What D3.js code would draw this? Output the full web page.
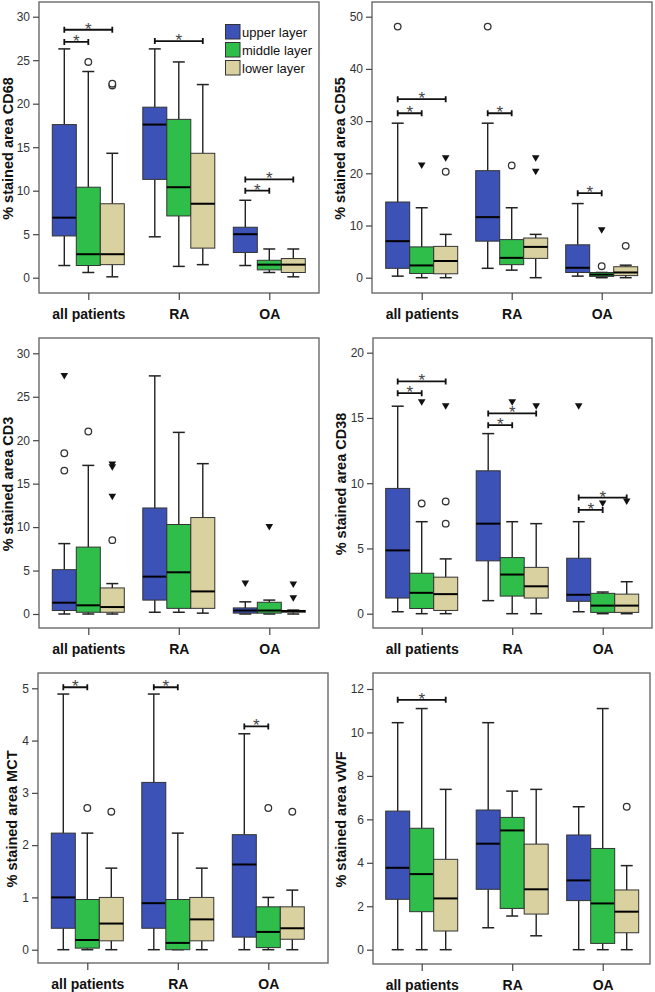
<!DOCTYPE html>
<html><head><meta charset="utf-8">
<script src="https://cdn.jsdelivr.net/npm/d3@7"></script>
<style>
html,body{margin:0;padding:0;background:#fff;}
svg{display:block;}
text{font-family:"Liberation Sans",Arial,sans-serif;}
</style></head>
<body>
<svg id="chart" width="655" height="992"></svg>
<script>
// ---------- data ----------
const groups = ["all patients", "RA", "OA"];
const layers = ["upper layer", "middle layer", "lower layer"];
const markers = ["CD68", "CD55", "CD3", "CD38", "MCT", "vWF"];

const cd68Ticks = [0, 5, 10, 15, 20, 25, 30];
const cd55Ticks = [0, 10, 20, 30, 40, 50];
const cd3Ticks  = [0, 5, 10, 15, 20, 25, 30];
const cd38Ticks = [0, 5, 10, 15, 20];
const mctTicks  = [0, 1, 2, 3, 4, 5];
const vwfTicks  = [0, 2, 4, 6, 8, 10, 12];

// box stats [min whisker, Q1, median, Q3, max whisker], order: group x layer
const cd68Boxes = [
  [1.4, 4.8, 6.9, 17.6, 26.3], [0.6, 1.4, 2.7, 10.4, 23.7], [0.1, 1.5, 2.7, 8.5, 14.3],
  [4.7, 11.3, 17.6, 19.6, 26.3], [1.3, 7.1, 10.4, 18.2, 24.8], [1.5, 3.4, 8.5, 14.3, 22.2],
  [1.4, 2.9, 5.0, 5.8, 8.9], [0.6, 0.9, 1.5, 2.0, 3.3], [0.1, 0.6, 1.5, 2.2, 3.3]
];
const cd55Boxes = [
  [0.3, 1.8, 7.0, 14.5, 29.6], [0, 0.8, 2.35, 5.9, 13.4], [0, 0.75, 3.2, 6.0, 8.3],
  [1.8, 7.0, 11.6, 20.5, 29.6], [1.45, 2.5, 3.8, 7.3, 13.4], [0, 3.7, 5.9, 7.6, 8.3],
  [0.3, 1.0, 1.9, 6.3, 14.2], [0, 0.25, 0.6, 1.0, 1.0], [0, 0.4, 1.0, 2.1, 2.4]
];
const cd3Boxes = [
  [0, 0.4, 1.3, 5.1, 8.1], [0, 0.2, 1.0, 7.7, 17.1], [0, 0.2, 0.8, 3.0, 3.5],
  [0.2, 1.6, 4.3, 12.2, 27.4], [0.2, 0.65, 4.8, 10.3, 20.9], [0.1, 0.65, 2.6, 11.1, 17.3],
  [0, 0.1, 0.4, 0.7, 1.4], [0, 0.1, 0.4, 1.35, 1.6], [0, 0.2, 0.35, 0.4, 0.45]
];
const cd38Boxes = [
  [0.15, 1.2, 4.85, 9.6, 15.9], [0, 0.4, 1.6, 3.1, 7.05], [0, 0.25, 1.5, 2.8, 4.2],
  [1.0, 4.05, 6.9, 10.95, 13.8], [0, 1.35, 3.0, 4.3, 7.05], [0, 1.2, 2.1, 3.55, 6.9],
  [0.15, 0.95, 1.45, 4.25, 7.05], [0, 0.1, 0.62, 1.56, 1.66], [0, 0.1, 0.62, 1.5, 2.45]
];
const mctBoxes = [
  [0, 0.41, 1.0, 2.23, 4.89], [0, 0.03, 0.185, 0.96, 2.23], [0, 0.17, 0.5, 1.0, 1.56],
  [0, 0.41, 0.89, 3.2, 4.89], [0, 0, 0.13, 0.96, 2.23], [0, 0.17, 0.58, 1.0, 1.56],
  [0, 0.24, 1.63, 2.2, 4.13], [0, 0.04, 0.34, 0.82, 1.0], [0, 0.2, 0.41, 0.82, 1.14]
];
const vwfBoxes = [
  [0, 2.32, 3.77, 6.38, 10.45], [0, 1.75, 3.48, 5.59, 11.1], [0, 0.86, 2.36, 4.16, 7.38],
  [1.01, 2.78, 4.88, 6.43, 10.45], [1.55, 1.9, 5.49, 6.09, 7.3], [0.64, 1.64, 2.78, 4.86, 7.38],
  [0, 2.26, 3.19, 5.28, 6.58], [0, 0.29, 2.13, 4.66, 11.1], [0, 0.78, 1.75, 2.75, 3.87]
];

// outliers [group, layer, value, kind]  c = circle (outlier), t = triangle (extreme)
const cd68Outliers = [[0, 1, 24.8, "c"], [0, 2, 22.1, "c"], [0, 2, 22.3, "c"]];
const cd55Outliers = [[0, 0, 48.1, "c"], [0, 1, 21.5, "t"], [0, 2, 22.9, "t"], [0, 2, 20.3, "c"],
  [1, 0, 48.1, "c"], [1, 1, 21.5, "c"], [1, 2, 22.9, "t"], [1, 2, 20.3, "t"],
  [2, 1, 9.1, "t"], [2, 1, 2.2, "c"], [2, 2, 6.1, "c"]];
const cd3Outliers = [[0, 0, 27.4, "t"], [0, 0, 18.5, "c"], [0, 0, 16.5, "c"], [0, 1, 21.0, "c"],
  [0, 2, 17.2, "t"], [0, 2, 16.9, "t"], [0, 2, 13.5, "t"], [0, 2, 8.5, "c"],
  [2, 0, 3.5, "t"], [2, 1, 10.0, "t"], [2, 2, 3.4, "t"], [2, 2, 1.8, "t"]];
const cd38Outliers = [[0, 1, 16.2, "t"], [0, 1, 8.45, "c"], [0, 2, 15.9, "t"], [0, 2, 8.6, "c"], [0, 2, 6.9, "c"],
  [1, 1, 16.2, "t"], [1, 2, 15.9, "t"], [2, 0, 15.9, "t"], [2, 1, 8.45, "t"], [2, 2, 8.6, "t"]];
const mctOutliers = [[0, 1, 2.71, "c"], [0, 2, 2.64, "c"], [2, 1, 2.71, "c"], [2, 2, 2.64, "c"]];
const vwfOutliers = [[2, 2, 6.58, "c"]];

// significance brackets [group, fromLayer, toLayer, value]
const cd68Sig = [[0, 0, 1, 27.1], [0, 0, 2, 28.5], [1, 0, 2, 27.2], [2, 0, 1, 10.0], [2, 0, 2, 11.3]];
const cd55Sig = [[0, 0, 1, 31.5], [0, 0, 2, 34.2], [1, 0, 1, 31.5], [2, 0, 1, 16.2]];
const cd3Sig = [];
const cd38Sig = [[0, 0, 1, 16.9], [0, 0, 2, 17.8], [1, 0, 1, 14.45], [1, 0, 2, 15.35], [2, 0, 1, 7.95], [2, 0, 2, 8.9]];
const mctSig = [[0, 0, 1, 5.02], [1, 0, 1, 5.02], [2, 0, 1, 4.27]];
const vwfSig = [[0, 0, 2, 11.5]];

// ---------- layout / style ----------
const colors = ["#3c52b6", "#2fbe4a", "#d9d19f"];
const panelData = [
  {ticks: cd68Ticks, boxes: cd68Boxes, out: cd68Outliers, sig: cd68Sig},
  {ticks: cd55Ticks, boxes: cd55Boxes, out: cd55Outliers, sig: cd55Sig},
  {ticks: cd3Ticks,  boxes: cd3Boxes,  out: cd3Outliers,  sig: cd3Sig},
  {ticks: cd38Ticks, boxes: cd38Boxes, out: cd38Outliers, sig: cd38Sig},
  {ticks: mctTicks,  boxes: mctBoxes,  out: mctOutliers,  sig: mctSig},
  {ticks: vwfTicks,  boxes: vwfBoxes,  out: vwfOutliers,  sig: vwfSig}
];
const layout = [
  {fx0: 39,  fy0: 2,   fx1: 319, fy1: 293, yr: [277.7, 16.7], xr: [88.3, 269.3],  lx: 13},
  {fx0: 372, fy0: 2,   fx1: 652, fy1: 293, yr: [277.7, 16.7], xr: [421.7, 601.7], lx: 345},
  {fx0: 39,  fy0: 338, fx1: 319, fy1: 628, yr: [614, 353.3],  xr: [88.3, 269.3],  lx: 13},
  {fx0: 373, fy0: 338, fx1: 652, fy1: 628, yr: [613.7, 352.7], xr: [421.7, 602.7], lx: 346},
  {fx0: 38,  fy0: 673, fx1: 328, fy1: 963, yr: [949.7, 688.3], xr: [87.3, 268.3],  lx: 17},
  {fx0: 373, fy0: 673, fx1: 650, fy1: 964, yr: [949.7, 689],  xr: [421.7, 602.7], lx: 346}
];

const svg = d3.select("#chart");
const inner = d3.scaleBand().domain(layers).range([-36, 36]);
const capW = 12;

panelData.forEach((pd, pi) => {
  const L = layout[pi];
  const g = svg.append("g");
  const x = d3.scalePoint().domain(groups).range(L.xr);
  const y = d3.scaleLinear().domain([pd.ticks[0], pd.ticks[pd.ticks.length - 1]]).range(L.yr);
  const cx = (gi, li) => x(groups[gi]) + inner(layers[li]) + inner.bandwidth() / 2;

  // frame
  g.append("rect").attr("x", L.fx0).attr("y", L.fy0)
    .attr("width", L.fx1 - L.fx0).attr("height", L.fy1 - L.fy0)
    .attr("fill", "none").attr("stroke", "#6a6a6a").attr("stroke-width", 1.4);

  // y axis
  const ya = g.append("g").attr("transform", `translate(${L.fx0},0)`)
    .call(d3.axisLeft(y).tickValues(pd.ticks).tickSize(6).tickPadding(3).tickFormat(d3.format("d")));
  ya.select(".domain").remove();
  ya.selectAll(".tick line").attr("stroke", "#444").attr("stroke-width", 1.2);
  ya.selectAll(".tick text").attr("fill", "#333").style("font-size", "12px")
    .style("font-family", "'Liberation Sans',Arial,sans-serif");

  // x axis
  const xa = g.append("g").attr("transform", `translate(0,${L.fy1})`)
    .call(d3.axisBottom(x).tickSize(7).tickPadding(8));
  xa.select(".domain").remove();
  xa.selectAll(".tick line").attr("stroke", "#444").attr("stroke-width", 1.2);
  xa.selectAll(".tick text").attr("fill", "#111").attr("dy", "0.75em")
    .style("font-size", "14px").style("font-weight", "bold")
    .style("font-family", "'Liberation Sans',Arial,sans-serif");

  // y title
  g.append("text")
    .attr("transform", `translate(${L.lx},${(L.fy0 + L.fy1) / 2 + 1}) rotate(-90)`)
    .attr("text-anchor", "middle").attr("font-size", "14.5px").attr("font-weight", "bold")
    .attr("fill", "#111").text("% stained area " + markers[pi]);

  // boxes
  const items = pd.boxes.map((b, i) => ({gi: Math.floor(i / 3), li: i % 3, b}));
  const bg = g.selectAll(".box").data(items).enter().append("g");
  bg.each(function(d) {
    const s = d3.select(this);
    const c = cx(d.gi, d.li);
    const w = inner.bandwidth();
    const [lo, q1, md, q3, hi] = d.b;
    s.append("line").attr("x1", c).attr("x2", c).attr("y1", y(q3)).attr("y2", y(hi))
      .attr("stroke", "#222").attr("stroke-width", 1.4);
    s.append("line").attr("x1", c).attr("x2", c).attr("y1", y(q1)).attr("y2", y(lo))
      .attr("stroke", "#222").attr("stroke-width", 1.4);
    s.append("line").attr("x1", c - capW / 2).attr("x2", c + capW / 2).attr("y1", y(hi)).attr("y2", y(hi))
      .attr("stroke", "#222").attr("stroke-width", 1.5);
    s.append("line").attr("x1", c - capW / 2).attr("x2", c + capW / 2).attr("y1", y(lo)).attr("y2", y(lo))
      .attr("stroke", "#222").attr("stroke-width", 1.5);
    s.append("rect").attr("x", c - w / 2).attr("y", y(q3)).attr("width", w)
      .attr("height", Math.max(0.8, y(q1) - y(q3)))
      .attr("fill", colors[d.li]).attr("stroke", "#333").attr("stroke-width", 1);
    s.append("line").attr("x1", c - w / 2).attr("x2", c + w / 2).attr("y1", y(md)).attr("y2", y(md))
      .attr("stroke", "#000").attr("stroke-width", 2);
  });

  // outliers
  pd.out.forEach(([gi, li, v, k]) => {
    const c = cx(gi, li), yy = y(v);
    if (k === "c") {
      g.append("circle").attr("cx", c).attr("cy", yy).attr("r", 3.3)
        .attr("fill", "#fff").attr("stroke", "#333").attr("stroke-width", 1.3);
    } else {
      g.append("path").attr("d", `M${c - 3.8},${yy - 3}L${c + 3.8},${yy - 3}L${c},${yy + 3.5}Z`)
        .attr("fill", "#111");
    }
  });

  // significance brackets
  pd.sig.forEach(([gi, a, b, v]) => {
    const x1 = cx(gi, a), x2 = cx(gi, b), yy = y(v);
    g.append("path").attr("d", `M${x1},${yy - 3}V${yy + 3}M${x1},${yy}H${x2}M${x2},${yy - 3}V${yy + 3}`)
      .attr("fill", "none").attr("stroke", "#111").attr("stroke-width", 1.8);
    g.append("text").attr("x", (x1 + x2) / 2).attr("y", yy + 5)
      .attr("text-anchor", "middle").attr("font-size", "17px").attr("fill", "#444").text("*");
  });

  // legend (first panel only)
  if (pi === 0) {
    const lg = g.append("g");
    layers.forEach((name, i) => {
      lg.append("rect").attr("x", 225.5).attr("y", 24.5 + i * 18).attr("width", 14.5).attr("height", 14.5)
        .attr("fill", colors[i]).attr("stroke", "#333").attr("stroke-width", 1);
      lg.append("text").attr("x", 242).attr("y", 36.5 + i * 18).attr("font-size", "13px")
        .attr("fill", "#111").text(name);
    });
  }
});
</script>
</body></html>
